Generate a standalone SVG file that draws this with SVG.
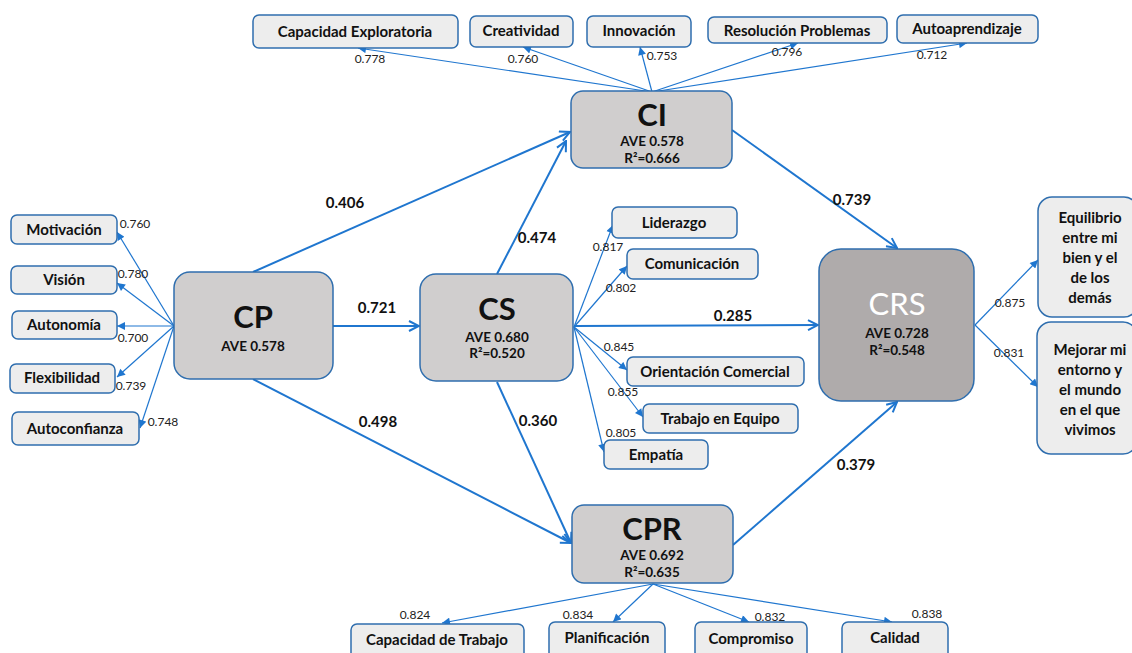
<svg xmlns="http://www.w3.org/2000/svg" width="1132" height="653" viewBox="0 0 1132 653">
<defs>
<style>
.ind{fill:#EDEDED;stroke:#2F6EAE;stroke-width:1.5}
.con{fill:#D0CECE;stroke:#2F6EAE;stroke-width:1.5}
.crs{fill:#AFABAB;stroke:#2F6EAE;stroke-width:1.5}
text{font-family:Lato,"Liberation Sans",sans-serif;fill:#111}
.it{font-size:15px;font-weight:bold;text-anchor:middle}
.big{font-size:31px;font-weight:bold;text-anchor:middle}
.sub{font-size:13.5px;font-weight:bold;text-anchor:middle}
.ld{font-size:12px;text-anchor:middle;fill:#222}
.pc{font-size:15px;font-weight:bold;text-anchor:middle}
.main{stroke:#1F76CF;stroke-width:2;fill:none;marker-end:url(#open)}
.thin{stroke:#1F76CF;stroke-width:1.2;fill:none;marker-end:url(#tri)}
</style>
<marker id="open" markerUnits="userSpaceOnUse" viewBox="0 0 12 12" refX="11" refY="6" markerWidth="12" markerHeight="12" orient="auto">
<path d="M1,1 L11,6 L1,11" fill="none" stroke="#1F76CF" stroke-width="2"/>
</marker>
<marker id="tri" markerUnits="userSpaceOnUse" viewBox="0 0 10 10" refX="10" refY="5" markerWidth="9" markerHeight="8" orient="auto">
<path d="M0,0 L10,5 L0,10 Z" fill="#1F76CF"/>
</marker>
</defs>

<g id="connectors">
<line class="thin" x1="652" y1="92" x2="358" y2="48"/>
<line class="thin" x1="652" y1="92" x2="523" y2="47"/>
<line class="thin" x1="652" y1="92" x2="640" y2="47"/>
<line class="thin" x1="652" y1="92" x2="798" y2="43"/>
<line class="thin" x1="652" y1="92" x2="967" y2="43"/>
<line class="thin" x1="174" y1="326" x2="117" y2="232"/>
<line class="thin" x1="174" y1="326" x2="117" y2="283"/>
<line class="thin" x1="174" y1="326" x2="117" y2="326"/>
<line class="thin" x1="174" y1="326" x2="117" y2="377"/>
<line class="thin" x1="174" y1="326" x2="140" y2="428"/>
<line class="thin" x1="574" y1="327" x2="613" y2="225"/>
<line class="thin" x1="574" y1="327" x2="627" y2="266"/>
<line class="thin" x1="574" y1="327" x2="627" y2="370"/>
<line class="thin" x1="574" y1="327" x2="643" y2="417"/>
<line class="thin" x1="574" y1="327" x2="604" y2="452"/>
<line class="thin" x1="975" y1="325" x2="1038" y2="260"/>
<line class="thin" x1="975" y1="325" x2="1038" y2="387"/>
<line class="thin" x1="653" y1="584" x2="442" y2="623"/>
<line class="thin" x1="653" y1="584" x2="613" y2="622"/>
<line class="thin" x1="653" y1="584" x2="749" y2="622"/>
<line class="thin" x1="653" y1="584" x2="892" y2="622"/>
<line class="main" x1="253" y1="272" x2="570" y2="132"/>
<line class="main" x1="497" y1="274" x2="566" y2="141"/>
<line class="main" x1="333" y1="326" x2="419" y2="326"/>
<line class="main" x1="253" y1="379" x2="571" y2="543"/>
<line class="main" x1="497" y1="382" x2="571" y2="543"/>
<line class="main" x1="574" y1="326" x2="818" y2="325"/>
<line class="main" x1="732" y1="130" x2="897" y2="248"/>
<line class="main" x1="733" y1="545" x2="897" y2="402"/>
<text class="ld" x="370" y="63">0.778</text>
<text class="ld" x="523" y="63">0.760</text>
<text class="ld" x="662" y="60">0.753</text>
<text class="ld" x="787" y="56">0.796</text>
<text class="ld" x="932" y="59">0.712</text>
<text class="ld" x="135" y="228">0.760</text>
<text class="ld" x="133" y="278">0.780</text>
<text class="ld" x="133" y="342">0.700</text>
<text class="ld" x="131" y="390">0.739</text>
<text class="ld" x="163" y="426">0.748</text>
<text class="ld" x="608" y="251">0.817</text>
<text class="ld" x="621" y="292">0.802</text>
<text class="ld" x="619" y="351">0.845</text>
<text class="ld" x="623" y="396">0.855</text>
<text class="ld" x="621" y="437">0.805</text>
<text class="ld" x="1010" y="307">0.875</text>
<text class="ld" x="1009" y="357">0.831</text>
<text class="ld" x="415" y="619">0.824</text>
<text class="ld" x="578" y="619">0.834</text>
<text class="ld" x="770" y="621">0.832</text>
<text class="ld" x="927" y="618">0.838</text>
<text class="pc" x="345" y="208">0.406</text>
<text class="pc" x="537" y="243">0.474</text>
<text class="pc" x="377" y="313">0.721</text>
<text class="pc" x="378" y="427">0.498</text>
<text class="pc" x="538" y="426">0.360</text>
<text class="pc" x="733" y="321">0.285</text>
<text class="pc" x="852" y="205">0.739</text>
<text class="pc" x="856" y="470">0.379</text>
</g>

<g id="CI">
<rect class="con" x="571" y="91" width="161" height="77" rx="12"/>
<text class="big" x="652" y="126">CI</text>
<text class="sub" x="652" y="146">AVE 0.578</text>
<text class="sub" x="652" y="163">R²=0.666</text>
</g>
<g id="CP">
<rect class="con" x="174" y="272" width="159" height="107" rx="16"/>
<text class="big" x="253" y="328">CP</text>
<text class="sub" x="253" y="351">AVE 0.578</text>
</g>
<g id="CS">
<rect class="con" x="420" y="274" width="153" height="107" rx="16"/>
<text class="big" x="497" y="320">CS</text>
<text class="sub" x="497" y="342">AVE 0.680</text>
<text class="sub" x="497" y="358">R²=0.520</text>
</g>
<g id="CPR">
<rect class="con" x="572" y="505" width="161" height="78" rx="12"/>
<text class="big" x="652" y="540">CPR</text>
<text class="sub" x="652" y="560">AVE 0.692</text>
<text class="sub" x="652" y="577">R²=0.635</text>
</g>
<g id="CRS">
<rect class="crs" x="819" y="249" width="155" height="152" rx="22"/>
<text x="897" y="315" style="font-size:31px;text-anchor:middle;fill:#fff">CRS</text>
<text class="sub" x="897" y="338">AVE 0.728</text>
<text class="sub" x="897" y="355">R²=0.548</text>
</g>

<g id="ind-capexp"><rect class="ind" x="253" y="15" width="205" height="33" rx="6"/><text class="it" x="355" y="37">Capacidad Exploratoria</text></g>
<g id="ind-creatividad"><rect class="ind" x="470" y="16" width="103" height="31" rx="6"/><text class="it" x="521" y="36">Creatividad</text></g>
<g id="ind-innovacion"><rect class="ind" x="587" y="16" width="104" height="31" rx="6"/><text class="it" x="639" y="36">Innovación</text></g>
<g id="ind-resolucion"><rect class="ind" x="708" y="17" width="179" height="26" rx="6"/><text class="it" x="797" y="36">Resolución Problemas</text></g>
<g id="ind-autoaprendizaje"><rect class="ind" x="897" y="15" width="141" height="28" rx="6"/><text class="it" x="967" y="34">Autoaprendizaje</text></g>

<g id="ind-motivacion"><rect class="ind" x="11" y="215" width="106" height="29" rx="6"/><text class="it" x="64" y="235">Motivación</text></g>
<g id="ind-vision"><rect class="ind" x="11" y="266" width="106" height="28" rx="6"/><text class="it" x="64" y="285">Visión</text></g>
<g id="ind-autonomia"><rect class="ind" x="12" y="311" width="105" height="28" rx="6"/><text class="it" x="64" y="330">Autonomía</text></g>
<g id="ind-flexibilidad"><rect class="ind" x="10" y="364" width="105" height="29" rx="6"/><text class="it" x="62" y="383">Flexibilidad</text></g>
<g id="ind-autoconfianza"><rect class="ind" x="12" y="412" width="127" height="33" rx="6"/><text class="it" x="75" y="434">Autoconfianza</text></g>

<g id="ind-liderazgo"><rect class="ind" x="612" y="207" width="125" height="31" rx="6"/><text class="it" x="674" y="228">Liderazgo</text></g>
<g id="ind-comunicacion"><rect class="ind" x="627" y="249" width="131" height="30" rx="6"/><text class="it" x="692" y="269">Comunicación</text></g>
<g id="ind-orientacion"><rect class="ind" x="627" y="357" width="177" height="29" rx="6"/><text class="it" x="715" y="377">Orientación Comercial</text></g>
<g id="ind-trabajo"><rect class="ind" x="643" y="404" width="155" height="29" rx="6"/><text class="it" x="720" y="424">Trabajo en Equipo</text></g>
<g id="ind-empatia"><rect class="ind" x="604" y="440" width="104" height="29" rx="6"/><text class="it" x="656" y="460">Empatía</text></g>

<g id="ind-equilibrio"><rect class="ind" x="1038" y="197" width="100" height="120" rx="14"/>
<text class="it" x="1090" y="223">Equilibrio</text><text class="it" x="1090" y="243">entre mi</text><text class="it" x="1090" y="263">bien y el</text><text class="it" x="1090" y="283">de los</text><text class="it" x="1090" y="303">demás</text></g>
<g id="ind-mejorar"><rect class="ind" x="1037" y="322" width="100" height="132" rx="14"/>
<text class="it" x="1090" y="355">Mejorar mi</text><text class="it" x="1090" y="375">entorno y</text><text class="it" x="1090" y="395">el mundo</text><text class="it" x="1090" y="415">en el que</text><text class="it" x="1090" y="435">vivimos</text></g>

<g id="ind-captrabajo"><rect class="ind" x="351" y="624" width="173" height="40" rx="6"/><text class="it" x="437" y="645">Capacidad de Trabajo</text></g>
<g id="ind-planificacion"><rect class="ind" x="549" y="622" width="116" height="40" rx="6"/><text class="it" x="607" y="643">Planificación</text></g>
<g id="ind-compromiso"><rect class="ind" x="695" y="622" width="112" height="40" rx="6"/><text class="it" x="751" y="644">Compromiso</text></g>
<g id="ind-calidad"><rect class="ind" x="842" y="622" width="106" height="40" rx="6"/><text class="it" x="895" y="643">Calidad</text></g>
</svg>
